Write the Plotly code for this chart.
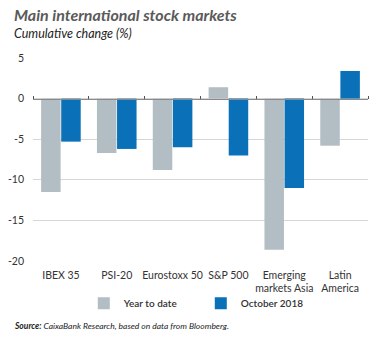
import plotly.graph_objects as go

categories = ["IBEX 35", "PSI-20", "Eurostoxx 50", "S&P 500", "Emerging<br>markets Asia", "Latin<br>America"]
ytd = [-11.5, -6.7, -8.8, 1.4, -18.6, -5.8]
oct2018 = [-5.3, -6.2, -6.0, -7.0, -11.0, 3.4]
series_names = ["Year to date", "October 2018"]
y_ticks = [5, 0, -5, -10, -15, -20]
y_min, y_max = -20, 5

GRAY = "#b3bdc4"
BLUE = "#0a71b9"
FONT = "Lato"

fig = go.Figure()
fig.add_trace(go.Bar(x=categories, y=ytd, name=series_names[0], marker=dict(color=GRAY, line=dict(width=0))))
fig.add_trace(go.Bar(x=categories, y=oct2018, name=series_names[1], marker=dict(color=BLUE, line=dict(width=0))))

W, H = 376, 338
ml, mr, mt, mb = 25, 8, 57.5, 77.3
pw = W - ml - mr
ph = H - mt - mb

def px_x(x):
    return (x - ml) / pw

def px_y(y):
    return (H - mb - y) / ph

fig.update_layout(
    width=W, height=H,
    margin=dict(l=ml, r=mr, t=mt, b=mb, pad=0),
    paper_bgcolor="white", plot_bgcolor="white",
    font=dict(family=FONT, color="#333333", size=10),
    barmode="group", bargap=0.28, bargroupgap=0.03,
    showlegend=True,
    legend=dict(orientation="h", x=px_x(77), xanchor="left", y=px_y(303), yanchor="middle",
                font=dict(size=10, color="#333333", family=FONT, weight=600),
                entrywidth=72, entrywidthmode="pixels", itemwidth=30,
                bgcolor="rgba(0,0,0,0)"),
    xaxis=dict(type="category", categoryorder="array", categoryarray=categories,
               range=[-0.5, len(categories) - 0.5],
               showline=False, ticks="", showgrid=False, zeroline=False,
               tickfont=dict(size=10.5, color="#333333"), ticklabelstandoff=6),
    xaxis2=dict(type="category", categoryorder="array", categoryarray=categories,
                range=[-0.5, len(categories) - 0.5],
                overlaying="x", anchor="free", side="top",
                position=(0 - y_min) / (y_max - y_min),
                showline=True, linecolor="#8a8a8a", linewidth=1,
                ticks="outside", tickson="boundaries", ticklen=3, tickcolor="#555555", tickwidth=1,
                showticklabels=False, showgrid=False, zeroline=False),
    yaxis=dict(range=[y_min, y_max], tickvals=y_ticks, ticktext=[str(v) for v in y_ticks],
               showgrid=True, gridcolor="#d6d6d6", gridwidth=1, zeroline=False,
               showline=False, ticks="", tickfont=dict(size=10.5, color="#333333"),
               ticklabelstandoff=8),
)

# invisible trace to activate xaxis2
fig.add_trace(go.Scatter(x=categories, y=[0] * len(categories), xaxis="x2", mode="markers",
                         marker=dict(opacity=0), showlegend=False, hoverinfo="skip"))

fig.add_annotation(text="<b><i>Main international stock markets</i></b>", xref="paper", yref="paper",
                   x=px_x(4), y=px_y(14), xanchor="left", yanchor="middle", showarrow=False,
                   font=dict(size=16, color="#5a5a5a", family=FONT))
fig.add_annotation(text="<i>Cumulative change (%)</i>", xref="paper", yref="paper",
                   x=px_x(4), y=px_y(33), xanchor="left", yanchor="middle", showarrow=False,
                   font=dict(size=12.5, color="#222222", family=FONT))
fig.add_annotation(text="<b><i>Source:</i></b><i> CaixaBank Research, based on data from Bloomberg.</i>",
                   xref="paper", yref="paper",
                   x=px_x(4), y=px_y(326), xanchor="left", yanchor="middle", showarrow=False,
                   font=dict(size=8.5, color="#222222", family=FONT))

fig.write_html("out.html")
